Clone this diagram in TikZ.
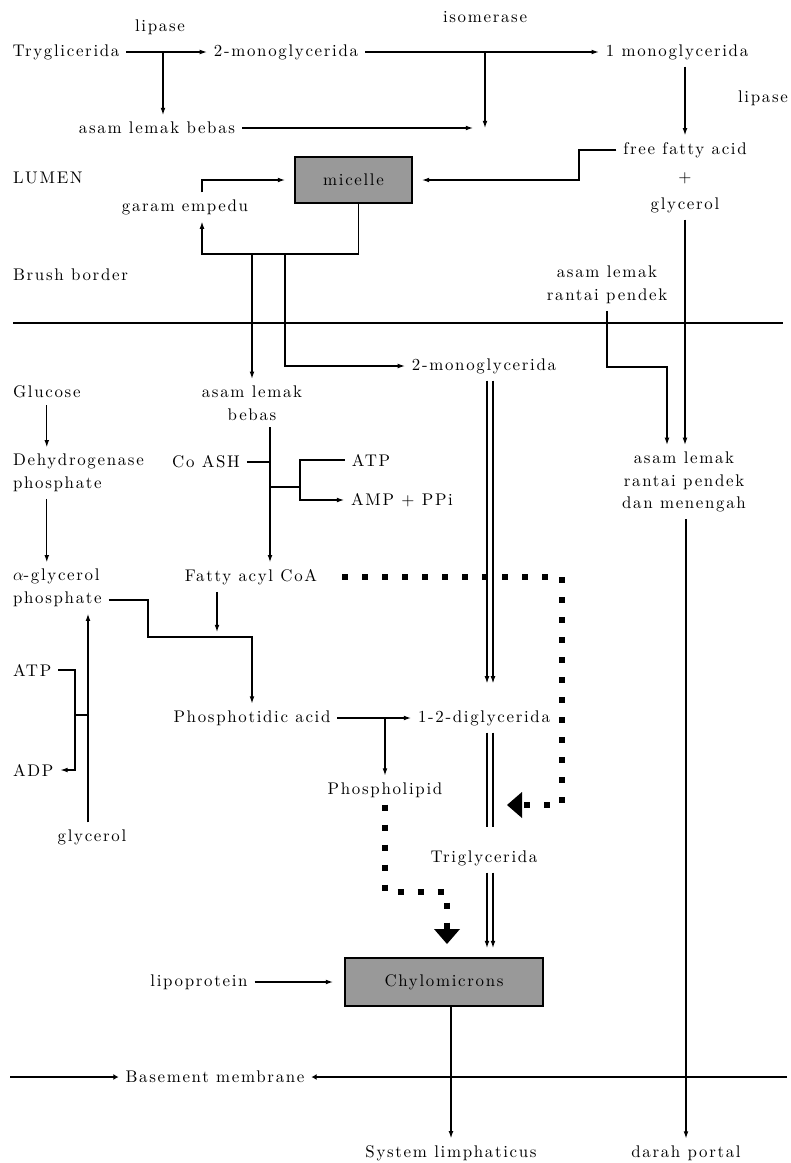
\documentclass[tikz,border=0pt]{standalone}
\usepackage{fontspec}
\setmainfont{lmroman10-regular}[Extension=.otf, LetterSpace=10]
\usepackage{tikz}
\usetikzlibrary{arrows.meta,calc}

\newcommand{\labelfont}{\fontsize{12}{16}\selectfont}

\tikzset{
  txt/.style={inner sep=2pt, outer sep=3pt, align=center},
  link/.style={line width=0.8pt},
  arr/.style={link, -{Latex[length=1.8mm,width=1.2mm]}},
  cellbox/.style={draw, line width=0.9pt, fill=black!40, inner sep=0pt, outer sep=0pt},
  dotpath/.style={line width=1.5mm, dash pattern=on 1.5mm off 3.5mm},
  bigtip/.style={-{Triangle[length=3.75mm,width=6.5mm,line width=0pt]}},
  membrane/.style={line width=2pt},
}

\begin{document}
\begin{tikzpicture}[x=0.25mm, y=-0.25mm, font=\labelfont]
\useasboundingbox (0,0) rectangle (791,1163);

% lumen
\node[txt] (lip1) at (160,27) {lipase};
\node[txt] (tg) at (66,52) {Tryglicerida};
\node[txt] (mg2) at (286,52) {2-monoglycerida};
\node[txt] (iso) at (485,17) {isomerase};
\node[txt] (mg1) at (677,52) {1 monoglycerida};
\node[txt] (alb) at (157,128) {asam lemak bebas};
\node[txt] (lip2) at (763,98) {lipase};
\node[txt] (ffa) at (685,150) {free fatty acid};
\node[txt] (plus) at (685,178) {+};
\node[txt] (gly) at (685,205) {glycerol};
\node[txt, anchor=west] (lumen) at (6,178) {LUMEN};
\node[cellbox, minimum width=29.25mm, minimum height=11.5mm] (mic) at (353.5,180) {micelle};
\node[txt] (ge) at (185,207) {garam empedu};
\node[txt, anchor=west] (bb) at (6,275) {Brush border};
\node[txt] (alrp) at (607,285) {asam lemak\\rantai pendek};

% mucosa cell
\node[txt, anchor=west] (glu) at (6,392) {Glucose};
\node[txt] (alb2) at (252,403) {asam lemak\\bebas};
\node[txt] (mg2b) at (484,366) {2-monoglycerida};
\node[txt, anchor=west, align=left] (dhp) at (6,473) {Dehydrogenase\\phosphate};
\node[txt] (coash) at (206,462) {Co ASH};
\node[txt] (atp1) at (371,460) {ATP};
\node[txt] (amp) at (402,500) {AMP + PPi};
\node[txt] (alrpm) at (684,482) {asam lemak\\rantai pendek\\dan menengah};
\node[txt, anchor=west, align=left] (agp) at (6,588) {$\alpha$-glycerol\\phosphate};
\node[txt] (fac) at (251,577) {Fatty acyl CoA};
\node[txt, anchor=west] (atp2) at (6,670) {ATP};
\node[txt, anchor=west] (adp) at (6,770) {ADP};
\node[txt] (pa) at (252,718) {Phosphotidic acid};
\node[txt] (dg) at (484,718) {1-2-diglycerida};
\node[txt] (pl) at (385,790) {Phospholipid};
\node[txt] (glyc) at (92,837) {glycerol};
\node[txt] (trig) at (484,858) {Triglycerida};
\node[txt] (lp) at (199,982) {lipoprotein};
\node[cellbox, minimum width=49.5mm, minimum height=12mm] (chy) at (444,982) {Chylomicrons};
\node[txt] (bm) at (215,1077) {Basement membrane};
\node[txt] (sl) at (451,1153) {System limphaticus};
\node[txt] (dp) at (686,1153) {darah portal};

% bends and junctions
\coordinate (j1) at (163,52);
\coordinate (j2) at (485,52);
\coordinate (m1) at (485,128);
\coordinate (k1) at (579,180);
\coordinate (k2) at (667,367);
\coordinate (k3) at (202,254);
\coordinate (k4) at (285,254);
\coordinate (bbl) at (13,323);
\coordinate (bbr) at (783,323);
\coordinate (v1) at (270,487);
\coordinate (v2) at (300,487);
\coordinate (k5) at (148,637);
\coordinate (k7) at (217,632);
\coordinate (v3) at (88,715);
\coordinate (v4) at (75,715);
\coordinate (v5) at (385,718);
\coordinate (k8) at (507,805);
\coordinate (k9) at (562,805);
\coordinate (k10) at (447,892);
\coordinate (bml) at (10,1077);
\coordinate (bmr) at (787,1077);

% lumen connectors
\draw[arr] (tg) -- (mg2);
\draw[arr] (j1) -- (j1 |- alb.north);
\draw[arr] (mg2) -- (mg1);
\draw[arr] (j2) -- (m1);
\draw[arr, shorten >=3mm] (alb) -- (m1);
\draw[arr] (mg1.south -| ffa.north) -- (ffa.north);
\draw[arr, shorten >=2.5mm] (ffa.west) -| (k1) -- (mic.east);
\draw[arr] (gly.south) -- (gly.south |- alrpm.north);
\draw[arr, shorten >=2.5mm] (ge.north -| k3) |- (mic.west);
\draw[arr] ($(mic.south)+(5,0)$) |- (k3) -- (ge.south -| k3);
\draw[arr] (k3 -| alb2.north) -- (alb2.north);
\draw[arr] (k4) |- (mg2b.west);
\draw[arr] (alrp.south) |- (k2) -- (k2 |- alrpm.north);
\draw[membrane] (bbl) -- (bbr);

% inside the cell
\draw[arr] (glu.south) -- (glu.south |- dhp.north);
\draw[arr] (glu.south |- dhp.south) -- (glu.south |- agp.north);
\draw[arr] (alb2.south -| v1) -- (fac.north -| v1);
\draw[link] (coash.east) -- (coash.east -| v1);
\draw[link] (v1) -- (v2);
\draw[arr] (atp1.west) -| (v2) |- (amp.west);
\draw[arr] ($(agp.east)+(0,12)$) -| (k5) -| (pa.north);
\draw[arr] (fac.south -| k7) -- (k7);
\draw[arr] (glyc.north -| v3) -- (agp.south -| v3);
\draw[arr] (atp2.east) -| (v4) |- (adp.east);
\draw[link] (v4) -- (v3);
\draw[arr] (pa) -- (dg);
\draw[arr] (v5) -- (pl.north);
\foreach \dx in {3,9} {
  \draw[arr, shorten >=5mm] ($(mg2b.south)+(\dx,0)$) -- ($(dg.north)+(\dx,0)$);
  \draw[link, shorten >=4mm] ($(dg.south)+(\dx,0)$) -- ($(trig.north)+(\dx,0)$);
  \draw[arr, shorten >=2.5mm] ($(trig.south)+(\dx,0)$) -- ($(trig.south |- chy.north)+(\dx,0)$);
}
\draw[dotpath, bigtip, shorten <=4.5mm] (fac.east) -| (k9) -- (k8);
\draw[dotpath, bigtip] (pl.south) |- (k10) -- ($(k10 |- chy.north)+(0,-14)$);
\draw[arr, shorten >=3mm] (lp) -- (chy);
\draw[arr] (chy.south -| sl.north) -- (sl.north);
\draw[arr] (alrpm.south -| dp.north) -- (dp.north);
\draw[membrane, -{Latex[length=1.3mm,width=1.5mm]}] (bml) -- (bm.west);
\draw[membrane, -{Latex[length=1.3mm,width=1.5mm]}] (bmr) -- (bm.east);
\end{tikzpicture}
\end{document}
